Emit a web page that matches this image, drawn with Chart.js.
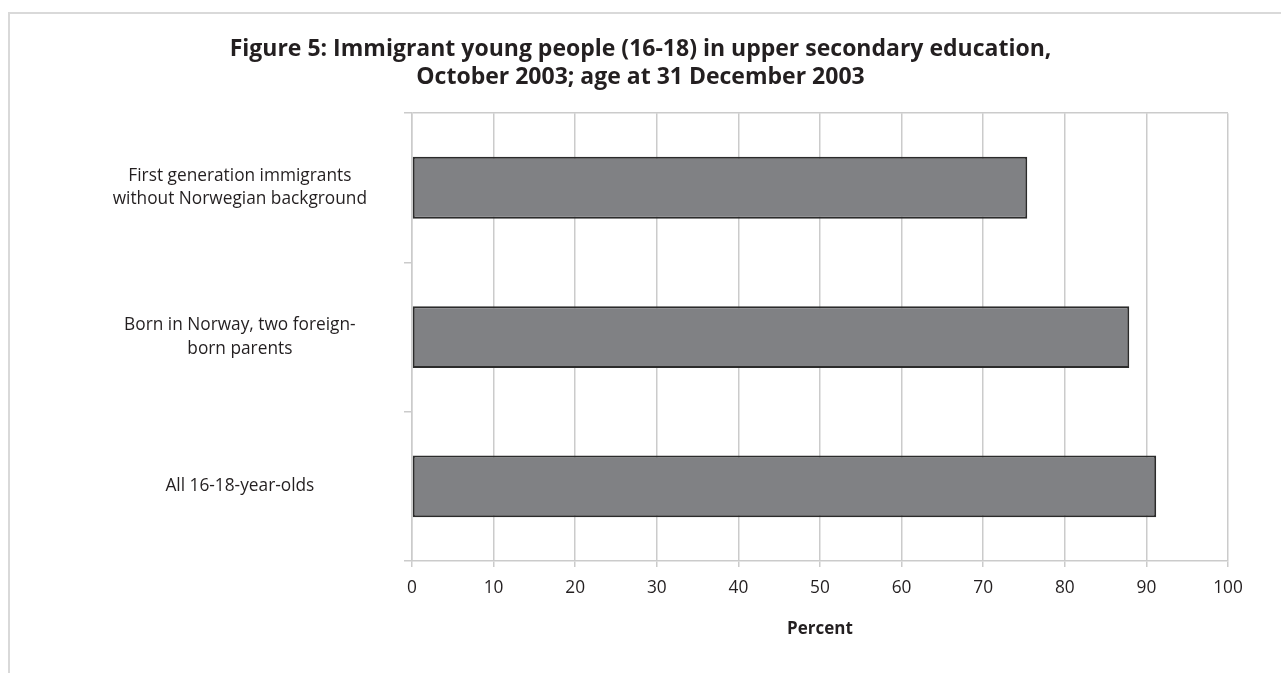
<!DOCTYPE html>
<html>
<head>
<meta charset="utf-8">
<script src="https://cdn.jsdelivr.net/npm/chart.js@4.4.1/dist/chart.umd.min.js"></script>
<style>
  html, body { margin: 0; padding: 0; background: #ffffff; }
  #wrap { position: relative; width: 1281px; height: 673px; }
  #frame { position: absolute; left: 8px; top: 12px; right: 0; bottom: 0;
           border-top: 2px solid #d9d9d9; border-left: 2px solid #d9d9d9; }
  canvas { position: absolute; left: 0; top: 0; }
</style>
</head>
<body>
<div id="wrap">
  <div id="frame"></div>
  <canvas id="grafico" width="1281" height="673"></canvas>
</div>
<script>
// Categorie (dall'alto verso il basso)
const categorie = [
    ['First generation immigrants', 'without Norwegian background'],
    ['Born in Norway, two foreign-', 'born parents'],
    'All 16-18-year-olds'
];
// Percentuale in istruzione secondaria superiore
const percentuali = [75.4, 87.9, 91.2];
// Etichette asse X
const tickX = [0, 10, 20, 30, 40, 50, 60, 70, 80, 90, 100];

const titolo = [
    'Figure 5: Immigrant young people (16-18) in upper secondary education,',
    'October 2003; age at 31 December 2003'
];

const grigio = '#cbcbcb';
const testo = '#231f20';
const font = 'Open Sans';

const ctx = document.getElementById('grafico').getContext('2d');
new Chart(ctx, {
    type: 'bar',
    data: {
        labels: categorie,
        datasets: [{
            data: percentuali,
            backgroundColor: '#808184',
            borderColor: '#2b2b2b',
            borderWidth: 2,
            borderSkipped: false,
            barPercentage: 0.415,
            categoryPercentage: 1
        }]
    },
    options: {
        indexAxis: 'y',
        responsive: false,
        animation: false,
        // padding simmetrico cosi' il titolo resta centrato sulla pagina
        layout: { padding: { left: 53, right: 53, top: 36, bottom: 0 } },
        plugins: {
            legend: { display: false },
            tooltip: { enabled: false },
            title: {
                display: true,
                text: titolo,
                color: testo,
                font: { family: font, size: 23, weight: 'bold', lineHeight: 1.2 },
                padding: { top: 0, bottom: 22 }
            }
        },
        scales: {
            x: {
                min: 0,
                max: 100,
                afterBuildTicks: scale => { scale.ticks = tickX.map(v => ({ value: v })); },
                afterFit: scale => { scale.height = 112; },
                grid: { color: grigio, lineWidth: 1.5, tickLength: 6 },
                border: { color: grigio, width: 1.5 },
                ticks: { color: testo, font: { family: font, size: 17.3 }, padding: 11 },
                title: {
                    display: true,
                    text: 'Percent',
                    color: testo,
                    font: { family: font, size: 17, weight: 'bold' },
                    padding: { top: 0, bottom: 34 }
                }
            },
            y: {
                offset: true,
                afterFit: scale => { scale.width = 359; },
                grid: {
                    offset: true,
                    color: c => c.index === 0 ? grigio : 'rgba(0,0,0,0)',
                    tickColor: grigio,
                    lineWidth: 1.5,
                    tickLength: 8
                },
                border: { color: grigio, width: 1.5 },
                ticks: {
                    color: testo,
                    crossAlign: 'center',
                    padding: 37,
                    font: { family: font, size: 17.3, lineHeight: 1.35 }
                }
            }
        }
    }
});
</script>
</body>
</html>
